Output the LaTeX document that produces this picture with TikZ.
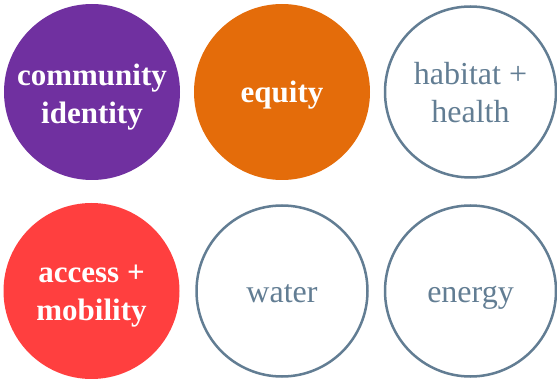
\documentclass[tikz,border=0pt]{standalone}
\usepackage{fontspec}
\setmainfont{Liberation Serif}
\definecolor{cpurple}{HTML}{7030A0}
\definecolor{corange}{HTML}{E46C0A}
\definecolor{cred}{HTML}{FF3F3F}
\definecolor{cslate}{HTML}{627D93}
\begin{document}
\begin{tikzpicture}[x=1pt,y=-1pt,
  filledc/.style={circle,minimum size=176pt,inner sep=0pt,fill=#1,draw=none},
  outc/.style={circle,minimum size=171pt,inner sep=0pt,draw=cslate,line width=2.5pt,fill=white},
  ftext/.style={text=white,font=\fontsize{31}{38}\selectfont\bfseries,align=center},
  otext/.style={text=cslate,font=\fontsize{32}{38}\selectfont,align=center}]
\useasboundingbox (0,0) rectangle (557,379);
\node[filledc=cpurple] (c1) at (92,92) {};
\node[filledc=corange] (c2) at (282,92) {};
\node[outc] (c3) at (470.5,92) {};
\node[filledc=cred] (c4) at (91.5,291) {};
\node[outc] (c5) at (282,291) {};
\node[outc] (c6) at (470.5,291) {};
\node[ftext] (t1) at ([yshift=-5pt]c1.center) {community\\identity};
\node[ftext,anchor=base] (t2) at ([yshift=-11pt]c2.center) {equity};
\node[otext] (t3) at ([yshift=-1pt]c3.center) {habitat +\\health};
\node[ftext] (t4) at ([yshift=-5pt]c4.center) {access +\\mobility};
\node[otext,anchor=base] (t5) at ([yshift=-12pt]c5.center) {water};
\node[otext,anchor=base] (t6) at ([yshift=-12pt]c6.center) {energy};
\end{tikzpicture}
\end{document}
